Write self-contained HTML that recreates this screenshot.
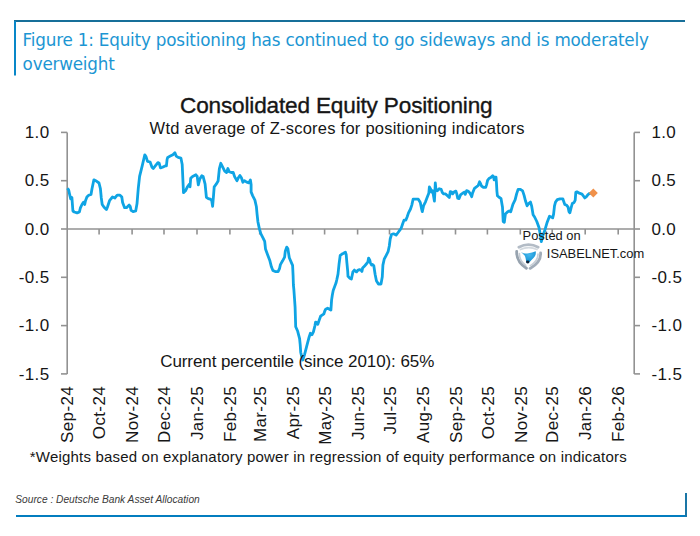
<!DOCTYPE html>
<html><head><meta charset="utf-8">
<style>
html,body{margin:0;padding:0;background:#fff;}
body{width:700px;height:536px;position:relative;overflow:hidden;}
svg{position:absolute;left:0;top:0;}
.ft{font-family:"DejaVu Sans",sans-serif;font-size:16.8px;letter-spacing:-0.2px;fill:#1c96d3;}
.ct{font-family:"Liberation Sans",Arial,sans-serif;fill:#161616;}
</style></head><body>
<svg width="700" height="536" viewBox="0 0 700 536">
<!-- frame -->
<rect x="14" y="20" width="671" height="2" fill="#176f99"/>
<rect x="14" y="21" width="2" height="54.5" fill="#0887c8"/>
<rect x="16" y="515" width="670" height="2" fill="#037dbf"/>
<rect x="685" y="493" width="2" height="24" fill="#1a76a6"/>
<text class="ft" x="22.6" y="45.6">Figure 1: Equity positioning has continued to go sideways and is moderately</text>
<text class="ft" x="22.6" y="70">overweight</text>

<text class="ct" x="180" y="112.5" font-size="22.6" style="letter-spacing:-0.17px;stroke:#161616;stroke-width:0.35px">Consolidated Equity Positioning</text>
<text class="ct" x="149.6" y="133.6" font-size="16.5" style="letter-spacing:0.24px">Wtd average of Z-scores for positioning indicators</text>

<!-- axes -->
<g stroke="#929292" stroke-width="1.6" fill="none">
<line x1="67.2" y1="132.4" x2="67.2" y2="373.9"/>
<line x1="634.2" y1="132.4" x2="634.2" y2="373.9"/>
<line x1="67.2" y1="229" x2="634.2" y2="229"/>
<line x1="61" y1="132.4" x2="67.2" y2="132.4"/><line x1="61" y1="180.7" x2="67.2" y2="180.7"/><line x1="61" y1="229.0" x2="67.2" y2="229.0"/><line x1="61" y1="277.3" x2="67.2" y2="277.3"/><line x1="61" y1="325.6" x2="67.2" y2="325.6"/><line x1="61" y1="373.9" x2="67.2" y2="373.9"/><line x1="634.2" y1="132.4" x2="640" y2="132.4"/><line x1="634.2" y1="180.7" x2="640" y2="180.7"/><line x1="634.2" y1="229.0" x2="640" y2="229.0"/><line x1="634.2" y1="277.3" x2="640" y2="277.3"/><line x1="634.2" y1="325.6" x2="640" y2="325.6"/><line x1="634.2" y1="373.9" x2="640" y2="373.9"/><line x1="99.1" y1="229" x2="99.1" y2="234.5"/><line x1="132.1" y1="229" x2="132.1" y2="234.5"/><line x1="164.0" y1="229" x2="164.0" y2="234.5"/><line x1="197.0" y1="229" x2="197.0" y2="234.5"/><line x1="229.9" y1="229" x2="229.9" y2="234.5"/><line x1="259.7" y1="229" x2="259.7" y2="234.5"/><line x1="292.7" y1="229" x2="292.7" y2="234.5"/><line x1="324.6" y1="229" x2="324.6" y2="234.5"/><line x1="357.6" y1="229" x2="357.6" y2="234.5"/><line x1="389.5" y1="229" x2="389.5" y2="234.5"/><line x1="422.5" y1="229" x2="422.5" y2="234.5"/><line x1="455.5" y1="229" x2="455.5" y2="234.5"/><line x1="487.4" y1="229" x2="487.4" y2="234.5"/><line x1="520.3" y1="229" x2="520.3" y2="234.5"/><line x1="552.2" y1="229" x2="552.2" y2="234.5"/><line x1="585.2" y1="229" x2="585.2" y2="234.5"/><line x1="618.2" y1="229" x2="618.2" y2="234.5"/>
</g>
<g class="ct" font-size="17">
<text x="49.6" y="138.0" style="letter-spacing:0.4px" text-anchor="end">1.0</text><text x="49.6" y="186.3" style="letter-spacing:0.4px" text-anchor="end">0.5</text><text x="49.6" y="234.6" style="letter-spacing:0.4px" text-anchor="end">0.0</text><text x="49.6" y="282.9" style="letter-spacing:0.4px" text-anchor="end">-0.5</text><text x="49.6" y="331.2" style="letter-spacing:0.4px" text-anchor="end">-1.0</text><text x="49.6" y="379.5" style="letter-spacing:0.4px" text-anchor="end">-1.5</text>
<text x="651.4" y="138.0" style="letter-spacing:0.4px">1.0</text><text x="651.4" y="186.3" style="letter-spacing:0.4px">0.5</text><text x="651.4" y="234.6" style="letter-spacing:0.4px">0.0</text><text x="651.4" y="282.9" style="letter-spacing:0.4px">-0.5</text><text x="651.4" y="331.2" style="letter-spacing:0.4px">-1.0</text><text x="651.4" y="379.5" style="letter-spacing:0.4px">-1.5</text>
<text transform="translate(73.4,386) rotate(-90)" text-anchor="end" style="letter-spacing:0.35px">Sep-24</text><text transform="translate(105.3,386) rotate(-90)" text-anchor="end" style="letter-spacing:0.35px">Oct-24</text><text transform="translate(138.3,386) rotate(-90)" text-anchor="end" style="letter-spacing:0.35px">Nov-24</text><text transform="translate(170.2,386) rotate(-90)" text-anchor="end" style="letter-spacing:0.35px">Dec-24</text><text transform="translate(203.2,386) rotate(-90)" text-anchor="end" style="letter-spacing:0.35px">Jan-25</text><text transform="translate(236.1,386) rotate(-90)" text-anchor="end" style="letter-spacing:0.35px">Feb-25</text><text transform="translate(265.9,386) rotate(-90)" text-anchor="end" style="letter-spacing:0.35px">Mar-25</text><text transform="translate(298.9,386) rotate(-90)" text-anchor="end" style="letter-spacing:0.35px">Apr-25</text><text transform="translate(330.8,386) rotate(-90)" text-anchor="end" style="letter-spacing:0.35px">May-25</text><text transform="translate(363.8,386) rotate(-90)" text-anchor="end" style="letter-spacing:0.35px">Jun-25</text><text transform="translate(395.7,386) rotate(-90)" text-anchor="end" style="letter-spacing:0.35px">Jul-25</text><text transform="translate(428.7,386) rotate(-90)" text-anchor="end" style="letter-spacing:0.35px">Aug-25</text><text transform="translate(461.7,386) rotate(-90)" text-anchor="end" style="letter-spacing:0.35px">Sep-25</text><text transform="translate(493.6,386) rotate(-90)" text-anchor="end" style="letter-spacing:0.35px">Oct-25</text><text transform="translate(526.5,386) rotate(-90)" text-anchor="end" style="letter-spacing:0.35px">Nov-25</text><text transform="translate(558.4,386) rotate(-90)" text-anchor="end" style="letter-spacing:0.35px">Dec-25</text><text transform="translate(591.4,386) rotate(-90)" text-anchor="end" style="letter-spacing:0.35px">Jan-26</text><text transform="translate(624.4,386) rotate(-90)" text-anchor="end" style="letter-spacing:0.35px">Feb-26</text>
</g>

<polyline points="67.5,188.2 68.7,190 69.8,195.2 70.7,198.9 71.9,197.5 72.9,211 74.3,212 77.1,212.9 79.4,212 80.3,208.2 82.2,204 83.6,202.2 84.7,204.5 85.5,200.8 86.9,197 88.7,195.2 91,194.4 92,188.7 93.9,179.8 95.7,180.7 99,183 100.4,188.7 101.3,198 102.2,204.5 104.1,207.3 106.4,209.6 107.4,207.3 109.7,200.3 112.5,197 114.8,198 117.2,195.2 120,195.2 121.8,197 122.6,202.5 124.6,207.7 126.5,207.7 129.2,205.1 130.2,206.4 131.1,210.4 133.1,211.7 135.7,211 137,203.8 138.3,188.1 139.6,176.4 142.2,165.9 144.8,154.8 146.1,156.8 147.5,161.3 150.1,162 152,167.2 153.3,168.5 155.3,165.9 157.9,162.6 159.2,163.3 160.5,167.9 162.5,167.2 165.1,165.9 166.4,165.9 167.1,159.4 167.7,157.4 170.3,156.1 172.9,154.8 174.9,152.8 176.2,156.1 178.2,157.4 180.9,158.1 182.2,164.6 182.8,177.7 183.5,192.7 185.5,190.8 187.4,186.8 189.4,184.2 190,186.8 190.7,178.3 192.6,176.4 195.9,174.8 197.2,176.4 198.3,184.9 199.8,179 201.8,175.7 203.1,176.4 205.1,184.2 206.4,197.3 208.3,198.6 210.3,199.2 211.6,199.9 212.6,206.4 213.6,194.7 214.2,186.8 216.2,184.2 218.1,181 219.4,168.5 220.8,163.3 222.7,167.2 224.7,171.1 226.6,172.5 227.9,168.5 229.2,171.8 231.2,172.5 233.2,172.5 234.7,176.9 237,180.7 238.4,177.7 239.9,175.4 241.4,177.7 242.9,182.2 244.4,180.7 246.7,182.2 248.9,182.9 250.4,179.9 251.1,184.4 251.1,191.9 252.6,195.6 254.9,200.1 256.4,206.8 257.1,214.3 257.9,221.7 259.3,228.4 260.8,233.7 263.1,238.1 264.7,241.4 265.5,248.9 267.7,254.9 269.9,260.8 271.4,266.8 272.9,270.5 275.2,271.6 278.1,271.6 279.6,268.3 280.4,264.6 282.6,260.8 284.6,257.1 285.3,251.1 286.7,247.1 287.9,248.9 289.3,257.8 291.6,263.1 292.6,265.3 293.1,275.7 293.4,285 293.9,290 294.6,300 295.1,307.4 295.7,326.8 297.7,331.3 299.6,338.7 300.2,344.7 300.7,352.2 301.7,356.6 302.8,360 304.4,355.1 306.6,346.7 308.9,337.8 310.4,333.3 311.9,334.8 313.4,331.8 314.9,325.8 315.6,322.1 317.1,322.8 317.8,324.3 319.3,319.9 320.6,316.2 322.5,314.8 323.9,313.8 324.8,311 325.7,309.2 327.6,308.2 329.5,309.2 330.9,310.1 331.3,304.5 331.6,299.9 332.3,295.2 333.2,290.5 334.6,286.8 336,283.1 336.9,279.3 338,274.1 339.1,263.7 340.2,255.4 341.7,254.3 343.6,253.2 345.4,252.1 346.2,254.7 346.9,262.9 347.7,271.1 348,276.3 349.9,278.2 351.4,279 352,276.3 352.9,271.9 354.4,270 355.1,271.1 356.6,271.9 357.7,270.4 359.6,269.6 360.7,270 361.9,271.5 362.6,268.1 364.1,266.6 366.3,264 367.8,262.2 368.6,258.1 369.7,259.9 370.4,262.9 371.6,265.1 372.5,264.4 373.8,265.7 375.1,274.2 376.4,280.8 378.4,284 381,284 382.3,276.8 382.9,265.1 384.2,259.2 386.2,255.3 388.2,251.3 389.3,246 390.2,239 391.5,234.5 393.5,233.8 396.1,235.1 398.1,232.5 400,229.9 401.3,227.9 402.6,224 404,220.1 405.9,220.1 407.2,216.8 408.5,212.9 410.5,209 411.8,205.1 413.1,199.2 415.7,199.2 418.3,199.2 420.3,202.5 421.6,209 422.3,211.6 423.6,205.7 425.5,201.8 427.5,196.6 428.8,193.3 429.4,186.8 430.8,189.4 431.4,192 432.7,190.7 434.4,201.1 434.9,192 435.3,182.8 436,190 437.3,190.7 439.2,188.7 441.2,189.4 442.3,192.5 443.7,193.9 445.6,193.9 447.5,195.8 449.3,197.6 450.3,191.6 451.7,192.1 452.6,193.9 454,192.1 455.9,191.1 456.8,193.9 457.7,198.1 459.1,198.6 460.5,194.9 462.9,193 464.7,192.1 465.2,194.4 466.6,190.7 468,191.1 469.9,193 471.7,196.7 472.6,193 474.5,188.3 476.4,186.9 478.2,185.5 479.6,181.8 480.6,183.7 481.5,186 483.4,187.4 485.7,187.4 486.6,184.6 487.6,180.4 489,178.5 490.8,177.6 492.7,175.7 493.6,176.7 494.1,179.9 495,177.6 496,177.1 496.4,181.8 496.9,191.1 497.4,195.8 499.5,197.6 501,198.4 502.5,207.3 503.2,221.5 504.3,222.2 505.4,214 507.7,211.8 509.2,211 510.7,211.8 512.9,204.3 515.1,199.9 516.6,193.9 518.1,189.4 520.4,189.4 522.6,190.9 524.1,195.4 525.6,201.3 527.1,205.8 528.6,203.6 530.5,202.1 531.6,205.8 533.1,214.8 534.6,217 536.8,221.5 539,227.5 540.5,235.7 541.3,241.6 542.8,235.7 545,229.7 547.2,222.2 549.5,216.3 551.3,217 552.7,217.9 553.6,214.2 554.5,205.8 555.5,202.1 557.3,199.7 560.1,198.8 562.9,198.8 563.9,202.1 564.8,204.4 566.7,205.3 568.1,207.2 569,211.8 569.9,212.8 570.9,208.6 572.3,203.5 574.1,202.5 575.2,200.2 575.8,192.3 576.9,191.8 579.3,193.2 582,194.1 583.4,196 584.8,197.9 586.2,196.9 587.6,195.1 589,193.7 592.5,192.9" fill="none" stroke="#0fa4e4" stroke-width="2.8" stroke-linejoin="round" stroke-linecap="butt"/>
<path d="M593.3,188.5 L597.8,193 L593.3,197.5 L588.8,193 Z" fill="#f0914a"/>

<text class="ct" x="160.2" y="366.5" font-size="17" style="letter-spacing:-0.08px">Current percentile (since 2010): 65%</text>

<!-- watermark -->
<text class="ct" x="522.6" y="240" font-size="12.9">Posted on</text>
<g transform="translate(528.6,256.8)" fill="none" stroke-linecap="round">
<defs><radialGradient id="bl" cx="0.55" cy="0.3" r="0.75"><stop offset="0" stop-color="#46b8ee"/><stop offset="0.6" stop-color="#1d9ad8"/><stop offset="1" stop-color="#1270ae"/></radialGradient></defs>
<path d="M-9.8,-9.6 Q0,-14.8 9.6,-9.6" stroke="#b3bcc6" stroke-width="2.8"/>
<path d="M-8.2,-7.2 Q0,-11.2 8.4,-7.4" stroke="#d3d9df" stroke-width="1.7"/>
<path d="M12,-4 Q12.6,5.5 1.5,11.6" stroke="#a2adb9" stroke-width="2.8"/>
<path d="M9.4,-2.6 Q9.6,4 1.8,8.8" stroke="#c8cfd7" stroke-width="1.7"/>
<path d="M-11.9,-5.5 Q-12.4,5 -2.2,11.4" stroke="#97a3af" stroke-width="2.8"/>
<path d="M-9.2,-3.2 Q-9.4,3.8 -3,8.6" stroke="#c5ccd4" stroke-width="1.7"/>
<path d="M-7.6,-4.9 Q-5,-3.1 -3.1,-3.2 Q-1.5,-3.3 -0.1,-3.6 Q3.5,-4.3 7.1,-5.6 Q7.8,-1.5 4.9,1.3 Q2.5,3.6 -0.1,6.5 Q-2,5.8 -2.4,4.7 Q-2.9,1 -3.6,-0.5 Q-5,-3 -7.6,-4.9 Z" fill="url(#bl)" stroke="none"/>
<ellipse cx="-0.9" cy="5.2" rx="1.7" ry="1.4" fill="#0f2236" stroke="none"/>
</g>
<text class="ct" x="546.8" y="258.2" font-size="12.9">ISABELNET.com</text>

<text class="ct" x="29.8" y="462" font-size="15" style="letter-spacing:0.19px">*Weights based on explanatory power in regression of equity performance on indicators</text>
<text x="15.3" y="502.9" style="font-family:'Liberation Sans',Arial,sans-serif;font-style:italic;font-size:10.2px;fill:#3a3a3a">Source : Deutsche Bank Asset Allocation</text>
</svg>
</body></html>
